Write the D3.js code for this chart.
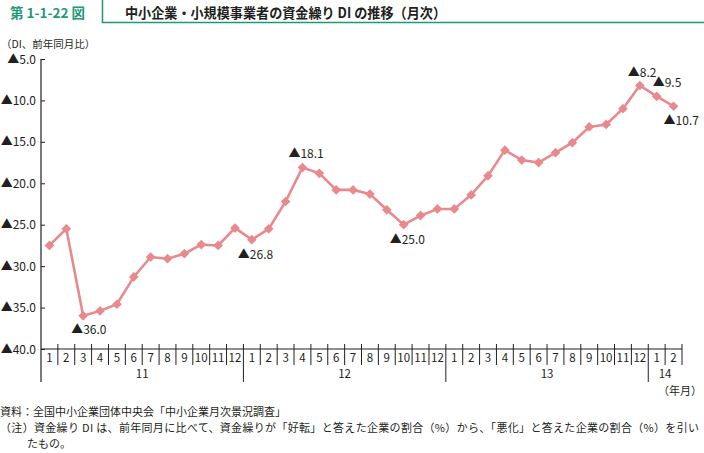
<!DOCTYPE html>
<html><head><meta charset="utf-8">
<script src="https://cdn.jsdelivr.net/npm/d3@7"></script>
<style>
body{margin:0;background:#fff;}
text{font-family:"Noto Sans CJK JP","Noto Sans",sans-serif;}
</style></head>
<body><svg id="c" width="704" height="453"></svg>
<script>
const years = ["11","12","13","14"];
const monthsPerYear = [12,12,12,2];
const values = [-27.5,-25.5,-36.0,-35.4,-34.6,-31.3,-28.9,-29.1,-28.5,-27.4,-27.5,-25.4,
  -26.8,-25.5,-22.2,-18.1,-18.8,-20.8,-20.8,-21.3,-23.2,-25.0,-23.9,-23.1,
  -23.1,-21.4,-19.1,-16.0,-17.2,-17.5,-16.3,-15.1,-13.2,-12.9,-11.0,-8.2,
  -9.5,-10.7];
const yTicks = [-5,-10,-15,-20,-25,-30,-35,-40];
const labelled = [2,12,15,21,35,36,37];
const labelOffsets = {2:[-12,18],12:[-14,19],15:[-14,-10],21:[-14,19],35:[-12,-9],36:[-4,-9],37:[-10,19]};

const svg = d3.select("#c");
const txt = "#231f20";
const green = "#1f9878";

// header
svg.append("path").attr("d","M102.5,0 V22.5 H704").attr("fill","none").attr("stroke",green).attr("stroke-width",1.5);
svg.append("text").attr("x",10).attr("y",18).attr("fill",green).attr("font-size",13.5).attr("font-weight","bold").text("第 1-1-22 図");
svg.append("text").attr("x",125).attr("y",18).attr("fill",txt).attr("font-size",14).attr("font-weight","bold")
  .attr("textLength",321).attr("lengthAdjust","spacingAndGlyphs")
  .text("中小企業・小規模事業者の資金繰り DI の推移（月次）");

svg.append("text").attr("x",1).attr("y",48).attr("fill",txt).attr("font-size",10.5).text("（DI、前年同月比）");

// scales
const cats = [];
years.forEach((y,i)=>{for(let m=1;m<=monthsPerYear[i];m++) cats.push(y+"-"+m);});
const x = d3.scaleBand().domain(cats).range([41,682]).padding(0);
const y = d3.scaleLinear().domain([-40,-5]).range([349,59]);

// y axis
const yAx = svg.append("g").attr("transform","translate(41,0)")
  .call(d3.axisRight(y).tickValues(yTicks).tickSize(4).tickFormat(""));
yAx.select(".domain").remove();
yAx.selectAll("line").attr("stroke",txt);
svg.append("line").attr("x1",41).attr("x2",41).attr("y1",59).attr("y2",382).attr("stroke",txt).attr("stroke-width",1.2);
yTicks.forEach(v=>{
  svg.append("text").attr("x",36).attr("y",y(v)+4.5).attr("text-anchor","end").attr("fill",txt).attr("font-size",12)
    .text("▲"+Math.abs(v).toFixed(1));
});

// x axis
svg.append("line").attr("x1",41).attr("x2",682).attr("y1",349).attr("y2",349).attr("stroke",txt).attr("stroke-width",1.2);
let idx = 0;
const bw = x.bandwidth();
years.forEach((yr,i)=>{
  const start = x(cats[idx]);
  for(let m=1;m<=monthsPerYear[i];m++){
    const c = cats[idx];
    svg.append("text").attr("x",x(c)+bw/2).attr("y",362).attr("text-anchor","middle").attr("fill",txt).attr("font-size",11.5).text(m);
    if(m>1) svg.append("line").attr("x1",x(c)).attr("x2",x(c)).attr("y1",344).attr("y2",365).attr("stroke",txt);
    idx++;
  }
  const end = idx<cats.length ? x(cats[idx]) : 682;
  svg.append("text").attr("x",(start+end)/2).attr("y",378).attr("text-anchor","middle").attr("fill",txt).attr("font-size",11.5).text(yr);
  if(idx<cats.length) svg.append("line").attr("x1",end).attr("x2",end).attr("y1",344).attr("y2",382).attr("stroke",txt);
  else svg.append("line").attr("x1",end).attr("x2",end).attr("y1",344).attr("y2",365).attr("stroke",txt);
});
svg.append("text").attr("x",702).attr("y",395).attr("text-anchor","end").attr("fill",txt).attr("font-size",11).text("（年月）");

// line
const pink = "#e8898e";
const px = i=>x(cats[i])+bw/2;
svg.append("path").datum(values)
  .attr("d",d3.line().x((d,i)=>px(i)).y(d=>y(d)))
  .attr("fill","none").attr("stroke",pink).attr("stroke-width",2.6);
svg.selectAll(".pt").data(values).join("path")
  .attr("transform",(d,i)=>`translate(${px(i)},${y(d)})`)
  .attr("d",d3.symbol().type(d3.symbolDiamond2).size(60))
  .attr("fill",pink);

labelled.forEach(i=>{
  const o = labelOffsets[i];
  svg.append("text").attr("x",px(i)+o[0]).attr("y",y(values[i])+o[1]).attr("fill",txt).attr("font-size",12)
    .text("▲"+Math.abs(values[i]).toFixed(1));
});

// notes
svg.append("text").attr("x",0).attr("y",416).attr("fill",txt).attr("font-size",11).text("資料：全国中小企業団体中央会「中小企業月次景況調査」");
svg.append("text").attr("x",0).attr("y",432).attr("fill",txt).attr("font-size",11)
  .attr("textLength",699).attr("lengthAdjust","spacing")
  .text("（注）資金繰り DI は、前年同月に比べて、資金繰りが「好転」と答えた企業の割合（%）から、「悪化」と答えた企業の割合（%）を引い");
svg.append("text").attr("x",27).attr("y",448).attr("fill",txt).attr("font-size",11).text("たもの。");
</script></body></html>
